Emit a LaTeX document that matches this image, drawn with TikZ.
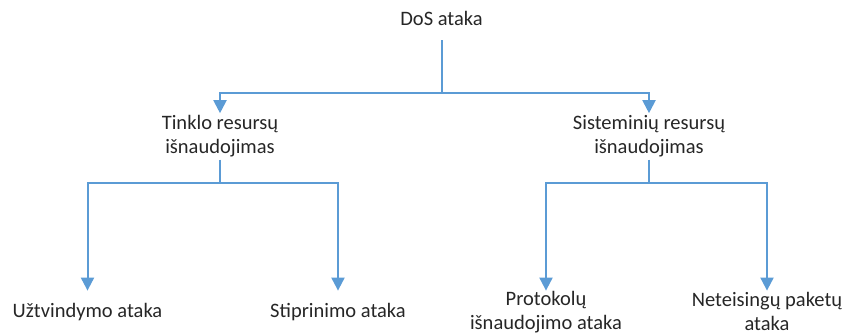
\documentclass[tikz,border=0pt]{standalone}
\usepackage{fontspec}
\setmainfont{Carlito}
\usetikzlibrary{arrows.meta,positioning}
\definecolor{linkblue}{RGB}{91,155,213}
\definecolor{labelgray}{RGB}{38,38,38}

\begin{document}
\begin{tikzpicture}[
    x=1pt, y=1pt,
    txt/.style={text=labelgray, align=center, inner sep=0pt, font=\fontsize{20.5}{24}\selectfont},
    rootbox/.style={txt, minimum height=44pt},
    midbox/.style={txt, minimum height=46pt},
    leafbox/.style={txt, minimum height=42pt},
    link/.style={draw=linkblue, line width=2pt},
    arrow/.style={link, -{Triangle[width=13pt,length=13pt]}}
]
\useasboundingbox (0,0) rectangle (846,-336);

% ===== ROOT =====
\node[rootbox] (dos) at (441.5,-18) {DoS ataka};
\coordinate[below=53pt of dos] (busTop);

% ===== SECOND LEVEL =====
\node[midbox, below=73pt of dos, xshift=-221.5pt] (tinklo) {Tinklo resursų\\išnaudojimas};
\node[midbox, below=73pt of dos, xshift=207.5pt] (sistem) {Sisteminių resursų\\išnaudojimas};

\draw[link] (dos) -- (busTop);
\draw[arrow] (busTop) -| (tinklo);
\draw[arrow] (busTop) -| (sistem);

% ===== LEAVES =====
\node[leafbox, below=131pt of tinklo, xshift=-132.5pt] (uzt) {Užtvindymo ataka};
\node[leafbox, below=131pt of tinklo, xshift=118pt] (stip) {Stiprinimo ataka};
\node[leafbox, below=131pt of sistem, xshift=-103pt] (prot) {Protokolų\\išnaudojimo ataka};
\node[leafbox, below=131pt of sistem, xshift=118pt] (netei) {Neteisingų paketų\\ataka};

\coordinate[below=23pt of tinklo] (busL);
\coordinate[below=23pt of sistem] (busR);

\draw[link] (tinklo) -- (busL);
\draw[arrow] (busL) -| (uzt);
\draw[arrow] (busL) -| (stip);
\draw[link] (sistem) -- (busR);
\draw[arrow] (busR) -| (prot);
\draw[arrow] (busR) -| (netei);

\end{tikzpicture}
\end{document}
